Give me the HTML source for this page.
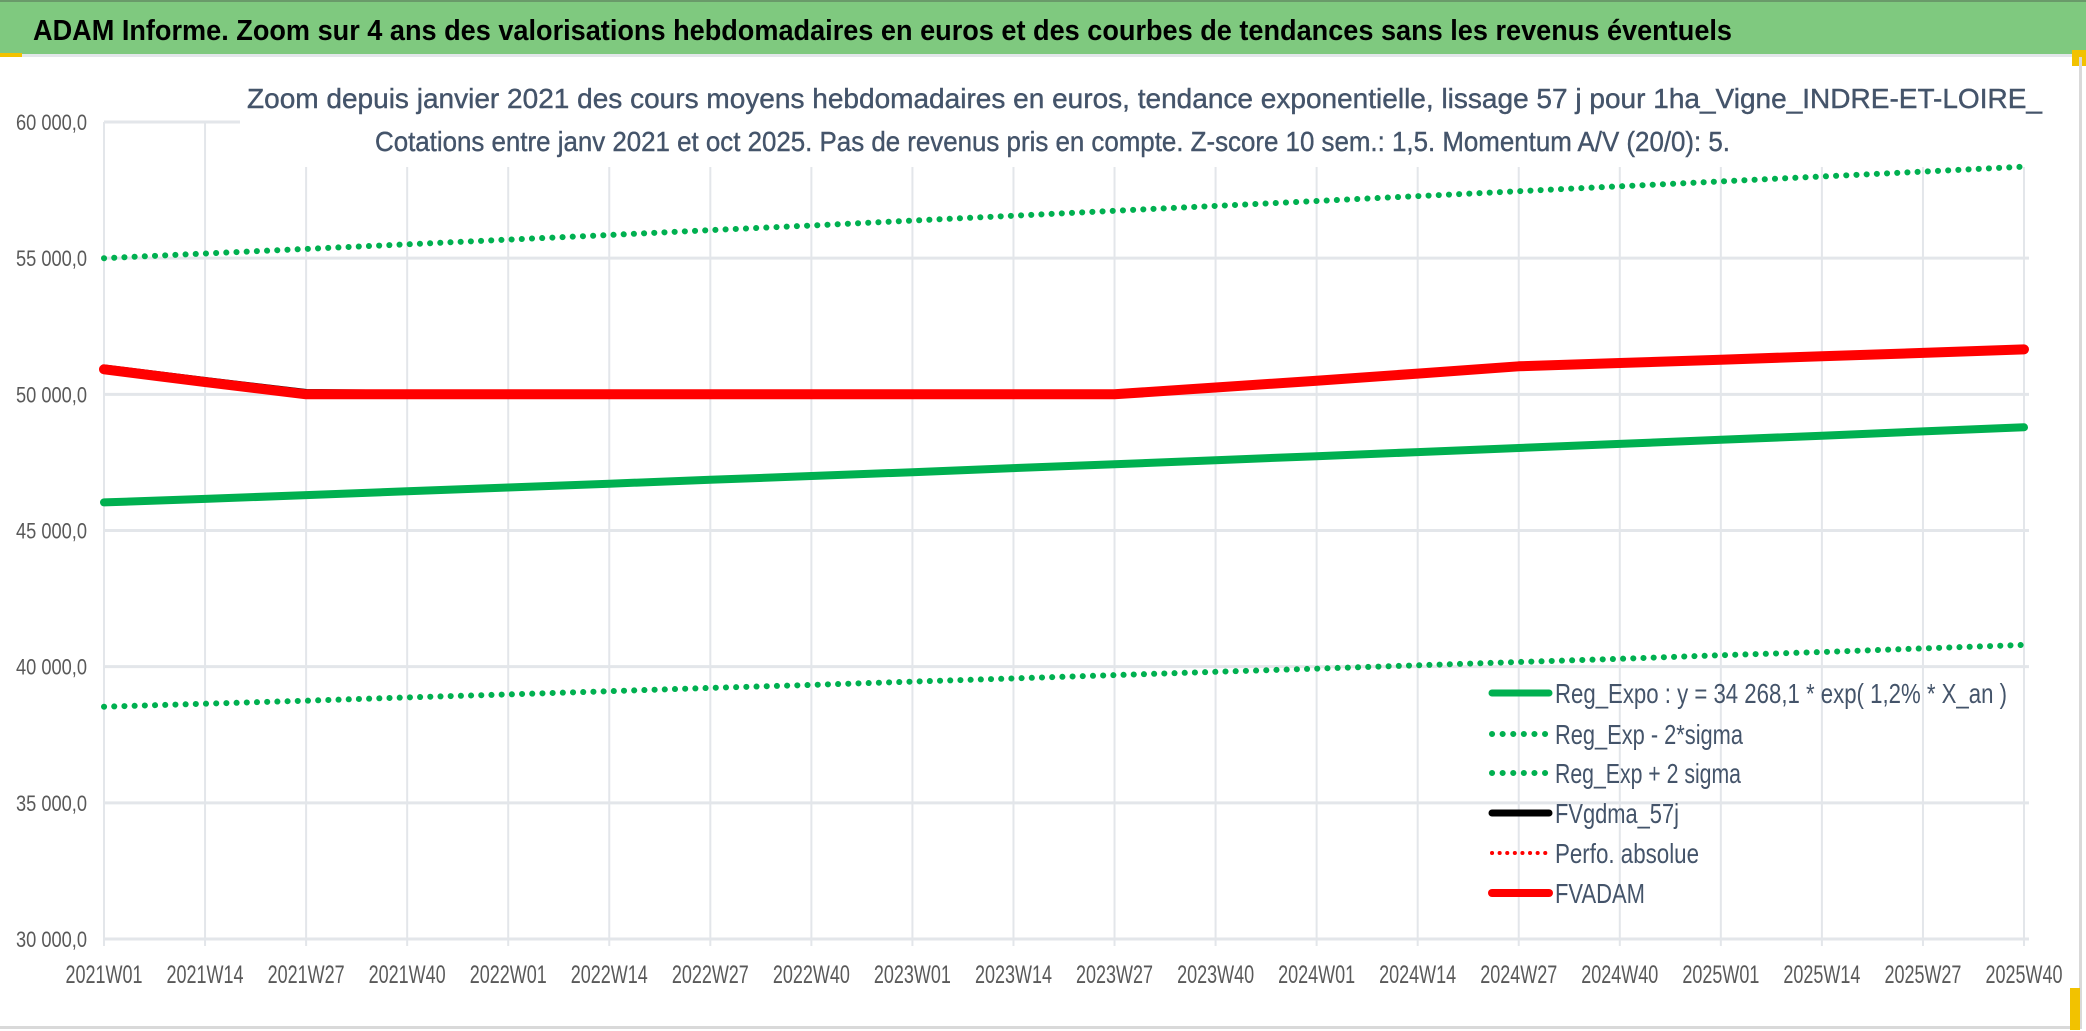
<!DOCTYPE html>
<html><head><meta charset="utf-8"><style>
html,body{margin:0;padding:0;background:#fff;}
svg{display:block;}
text{font-family:"Liberation Sans Narrow","Liberation Sans",sans-serif;}
</style></head><body>
<svg id="chart" width="2086" height="1031" viewBox="0 0 2086 1031" xmlns="http://www.w3.org/2000/svg">
<rect x="0" y="0" width="2086" height="1031" fill="#fff"/>
<rect x="0" y="0" width="2086" height="54" fill="#7fc97f"/>
<rect x="0" y="0" width="2086" height="2" fill="#6a9a6a"/>
<rect x="0" y="54" width="2086" height="3" fill="#e3e6ea"/>
<rect x="0" y="53" width="22" height="4" fill="#f2c200"/>
<rect x="2072" y="50" width="14" height="16" fill="#f2c200"/>
<text x="33" y="40" font-size="29" font-weight="bold" fill="#000" textLength="1699" lengthAdjust="spacingAndGlyphs">ADAM Informe. Zoom sur 4 ans des valorisations hebdomadaires en euros et des courbes de tendances sans les revenus éventuels</text>
<rect x="2079" y="57" width="3" height="972" fill="#d9d9d9"/>
<rect x="0" y="1026" width="2082" height="3" fill="#d9d9d9"/>
<rect x="2070" y="988" width="10" height="42" fill="#f2c200"/>
<g id="grid"></g>
<rect x="240" y="68" width="1806" height="99" fill="#fff"/>
<text x="247" y="108" font-size="28" fill="#44546a" stroke="#44546a" stroke-width="0.4" textLength="1795" lengthAdjust="spacingAndGlyphs">Zoom depuis janvier 2021 des cours moyens hebdomadaires en euros, tendance exponentielle, lissage 57 j pour 1ha_Vigne_INDRE-ET-LOIRE_</text>
<text x="375" y="151" font-size="28" fill="#44546a" stroke="#44546a" stroke-width="0.4" textLength="1355" lengthAdjust="spacingAndGlyphs">Cotations entre janv 2021 et oct 2025. Pas de revenus pris en compte. Z-score 10 sem.: 1,5. Momentum A/V (20/0): 5.</text>
<g id="axes"></g>
<g id="series"></g>
<g id="legend"></g>
</svg>
<script>
const categories = ["2021W01","2021W14","2021W27","2021W40","2022W01","2022W14","2022W27","2022W40","2023W01","2023W14","2023W27","2023W40","2024W01","2024W14","2024W27","2024W40","2025W01","2025W14","2025W27","2025W40"];
const yTicks = [30000,35000,40000,45000,50000,55000,60000];
const yTickLabels = ["30 000,0","35 000,0","40 000,0","45 000,0","50 000,0","55 000,0","60 000,0"];
const regExpo = [46030,46160,46300,46440,46580,46720,46860,47000,47140,47290,47430,47580,47730,47880,48030,48180,48330,48480,48640,48790];
const regMinus = [38530,38640,38750,38870,38980,39100,39220,39330,39450,39570,39690,39810,39930,40050,40170,40290,40420,40540,40670,40800];
const regPlus = [55000,55170,55340,55510,55680,55850,56030,56200,56380,56560,56740,56920,57100,57280,57460,57640,57820,58000,58180,58360];
const fvGdma = [50930,50470,50030,50000,50000,50000,50000,50000,50000,50000,50010,50250,50500,50760,51030,51150,51270,51400,51520,51650];
const fvAdam = [50920,50450,50000,50000,50000,50000,50000,50000,50000,50000,50000,50250,50500,50760,51030,51150,51270,51400,51520,51650];
const legendLabels = ["Reg_Expo : y = 34 268,1 * exp( 1,2% *  X_an )","Reg_Exp - 2*sigma","Reg_Exp + 2 sigma","FVgdma_57j","Perfo. absolue","FVADAM"];

const NS="http://www.w3.org/2000/svg";
const X0=104,X1=2024,Y0=939,Y1=122,VMIN=30000,VMAX=60000;
function xPos(i){return X0+(X1-X0)*i/(categories.length-1);}
function yPos(v){return Y0-(v-VMIN)/(VMAX-VMIN)*(Y0-Y1);}
function mk(tag,attrs,parent){const e=document.createElementNS(NS,tag);for(const k in attrs)e.setAttribute(k,attrs[k]);parent.appendChild(e);return e;}
const grid=document.getElementById('grid'),axes=document.getElementById('axes'),series=document.getElementById('series'),legend=document.getElementById('legend');

yTicks.forEach((v,i)=>{
  const l=mk('line',{x1:X0,x2:X1+5,y1:yPos(v),y2:yPos(v),stroke:'#e3e6ea','stroke-width':3},grid);
  
  
  const t=mk('text',{x:16,y:yPos(v)+8,'font-size':22,fill:'#595959',textLength:71,lengthAdjust:'spacingAndGlyphs'},axes);
  t.textContent=yTickLabels[i];
  
  
});
categories.forEach((c,i)=>{
  const x=xPos(i);
  const l=mk('line',{x1:x,x2:x,y1:Y1,y2:Y0+7,stroke:'#e3e6ea','stroke-width':2},grid);
  
  
  const t=mk('text',{x:x,y:983,'font-size':25,fill:'#595959','text-anchor':'middle',textLength:77,lengthAdjust:'spacingAndGlyphs'},axes);
  t.textContent=c;
  
  
});
function pts(arr){return arr.map((v,i)=>xPos(i).toFixed(1)+','+yPos(v).toFixed(1)).join(' ');}
function line(arr,color,w,dotted,name){
  const a={points:pts(arr),fill:'none',stroke:color,'stroke-width':w,'stroke-linecap':'round','stroke-linejoin':'round'};
  if(dotted){a['stroke-dasharray']='0.1 10.1';}
  const p=mk('polyline',a,series);
  
  
}
line(regPlus,'#00b050',6,true,'reg-exp-plus-2sigma-line');
line(regMinus,'#00b050',6,true,'reg-exp-minus-2sigma-line');
line(regExpo,'#00b050',8,false,'reg-expo-line');
line(fvGdma,'#000000',9,false,'fvgdma-57j-line');
line(fvAdam,'#ff0000',10,false,'fvadam-line');

const legStyles=[['#00b050',7,false],['#00b050',6,true],['#00b050',6,true],['#000000',7,false],['#ff0000',4,true],['#ff0000',8,false]];
const legY=[693,734,773,813,853,893];
const legW=[452,188,186,124,144,90];
legendLabels.forEach((lab,i)=>{
  const y=legY[i],s=legStyles[i];
  const a={x1:1492,x2:1549,y1:y,y2:y,stroke:s[0],'stroke-width':s[1],'stroke-linecap':'round'};
  if(s[2])a['stroke-dasharray']=(i===4?'0.1 7.5':'0.1 10.5');
  const l=mk('line',a,legend);
  
  
  const t=mk('text',{x:1555,y:y+10,'font-size':28,fill:'#44546a',textLength:legW[i],lengthAdjust:'spacingAndGlyphs'},legend);
  t.textContent=lab;
  
  
});
</script>
</body></html>
